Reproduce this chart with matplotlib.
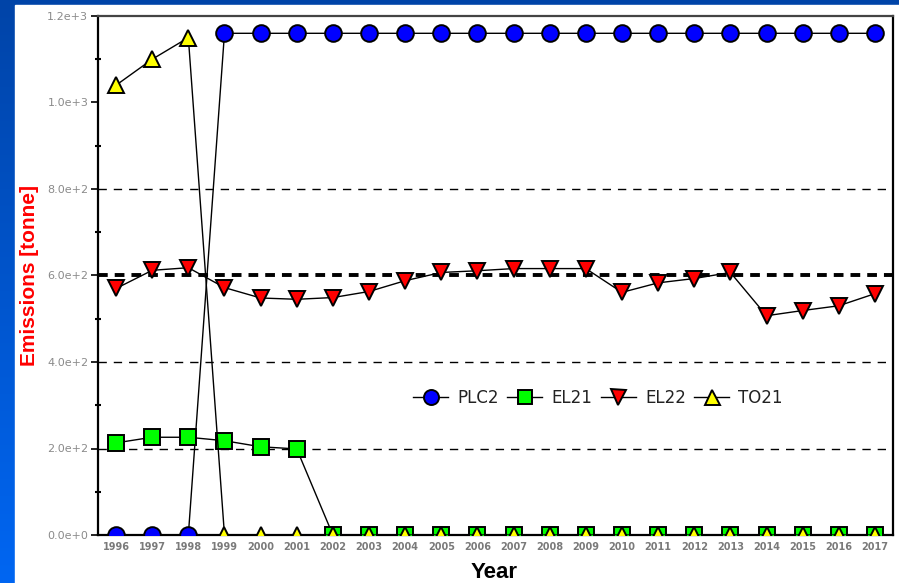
import numpy as np
import matplotlib
matplotlib.use("Agg")
import matplotlib.pyplot as plt
from matplotlib.patches import Rectangle
from matplotlib.colors import LinearSegmentedColormap

years = [str(y) for y in range(1996, 2018)]
plc2 = [0, 0, 0] + [1160] * 19
el21 = [213, 226, 226, 218, 204, 199] + [0] * 16
el22 = [570, 612, 618, 572, 548, 545, 549, 563, 588, 607, 611, 616, 616, 616,
        561, 583, 593, 607, 507, 519, 530, 558]
to21 = [1040, 1100, 1150] + [0] * 19
series_names = ["PLC2", "EL21", "EL22", "TO21"]
yticks = [0, 200, 400, 600, 800, 1000, 1200]
ytick_labels = ["0.0e+0", "2.0e+2", "4.0e+2", "6.0e+2", "8.0e+2", "1.0e+3", "1.2e+3"]
grid_levels = [200, 400, 800]
threshold = 600

W, H = 899, 583
fig = plt.figure(figsize=(W / 100, H / 100), dpi=100)

# blue slide background gradient
bg = fig.add_axes([0, 0, 1, 1], zorder=-10)
cmap = LinearSegmentedColormap.from_list("bg", ["#0044a8", "#0066f2"])
bg.imshow(np.linspace(0, 1, 256).reshape(-1, 1), aspect="auto", cmap=cmap,
          extent=[0, 1, 0, 1], origin="upper")
bg.add_patch(Rectangle((15 / W, 0), 1, 1 - 5 / H, color="white",
                       transform=bg.transAxes))
bg.set_xlim(0, 1); bg.set_ylim(0, 1)
bg.axis("off")

ax = fig.add_axes([98 / W, 1 - 535 / H, (893 - 98) / W, (535 - 16) / H])
ax.set_facecolor("white")
x = np.arange(len(years))

for g in grid_levels:
    ax.axhline(g, color="black", lw=1.0, ls=(0, (6, 5)), zorder=1)
ax.axhline(threshold, color="black", lw=2.8, ls=(0, (2.5, 1.8)), zorder=1)

mk = dict(mec="black", mew=1.4, color="black", lw=1.0, zorder=3)
ax.plot(x, plc2, marker="o", mfc="#0000ff", ms=12, label=series_names[0], **mk)
ax.plot(x, el21, marker="s", mfc="#00ff00", ms=11, label=series_names[1], **mk)
ax.plot(x, el22, marker="v", mfc="#ff0000", ms=12, label=series_names[2], **mk)
ax.plot(x, to21, marker="^", mfc="#ffff00", ms=12, label=series_names[3], **mk)

ax.set_xlim(-0.5, len(years) - 0.5)
ax.set_ylim(0, 1200)
ax.set_yticks(yticks)
ax.set_yticklabels(ytick_labels, fontsize=8, color="#8a8a8a")
ax.set_yticks(np.arange(100, 1200, 200), minor=True)
ax.set_xticks(x)
ax.set_xticklabels(years, fontsize=7, color="#7a7a7a", fontweight="bold")
ax.tick_params(axis="x", length=0, pad=5)
ax.tick_params(axis="y", which="major", length=5, width=1.2, direction="out", pad=2)
ax.tick_params(axis="y", which="minor", length=4, width=1.5, direction="inout")

for side in ["left", "bottom", "right"]:
    ax.spines[side].set_color("black")
    ax.spines[side].set_linewidth(1.6)
ax.spines["top"].set_color("#444444")
ax.spines["top"].set_linewidth(1.6)

leg = ax.legend(ncol=4, loc="center", bbox_to_anchor=(0.629, 0.264), frameon=False,
                fontsize=12, handlelength=2.1, handletextpad=0.55, columnspacing=0.5,
                markerscale=0.9)
for t in leg.get_texts():
    t.set_color("#222222")

fig.text(30 / W, 1 - 275 / H, "Emissions [tonne]", rotation=90, color="red",
         fontsize=15, fontweight="bold", family="Liberation Sans",
         ha="center", va="center")
fig.text(494 / W, 1 - 572 / H, "Year", color="black", fontsize=16,
         fontweight="bold", family="Liberation Sans", ha="center", va="center")

fig.savefig("out.png", dpi=100)
